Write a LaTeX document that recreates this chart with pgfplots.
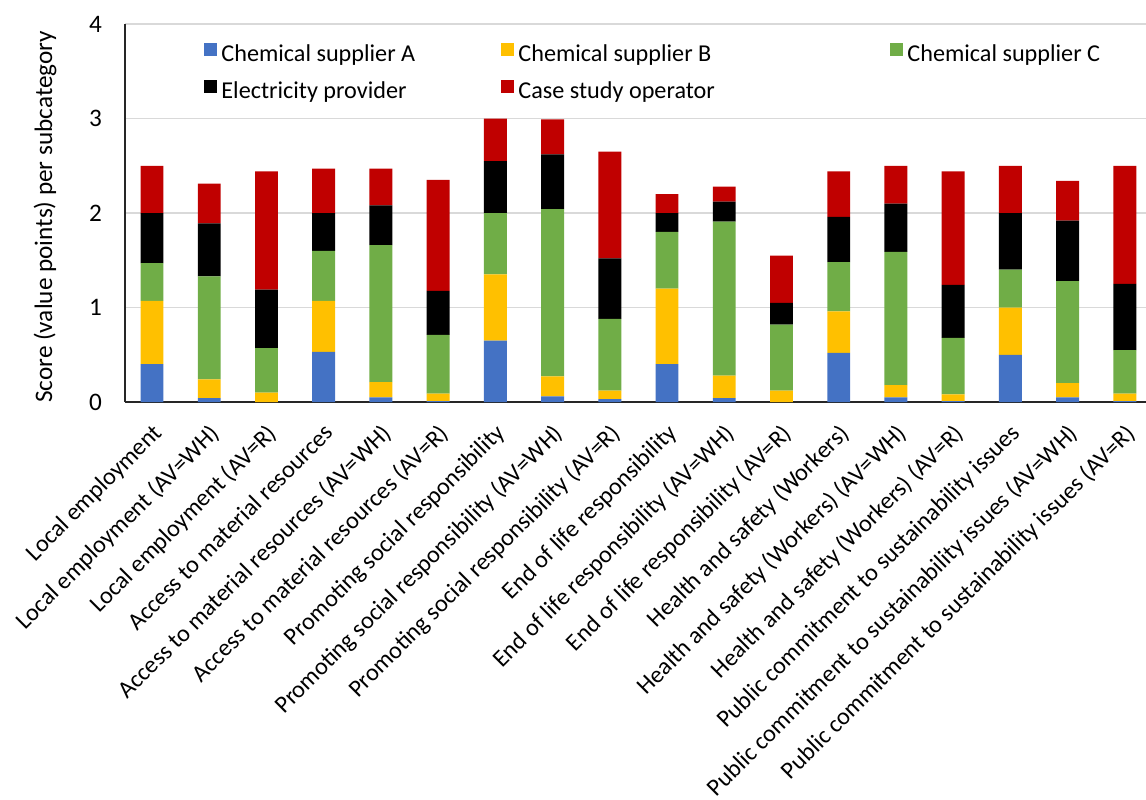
\documentclass[border=0pt]{standalone}
\usepackage{pgfplots}
\pgfplotsset{compat=1.18}
\usepackage{pgfplotstable}
\usepackage{fontspec}
\setmainfont{Carlito}
\definecolor{cA}{HTML}{4472C4}
\definecolor{cB}{HTML}{FFC000}
\definecolor{cC}{HTML}{70AD47}
\definecolor{cE}{HTML}{000000}
\definecolor{cO}{HTML}{C00000}
\definecolor{gridc}{HTML}{D9D9D9}
\pgfplotstableread{
idx A B C E O
0 0.40 0.67 0.40 0.53 0.50
1 0.04 0.20 1.09 0.56 0.42
2 0.00 0.10 0.47 0.62 1.25
3 0.53 0.54 0.53 0.40 0.47
4 0.05 0.16 1.45 0.42 0.39
5 0.01 0.08 0.62 0.465 1.175
6 0.65 0.70 0.65 0.55 0.45
7 0.06 0.21 1.77 0.58 0.37
8 0.03 0.09 0.76 0.64 1.13
9 0.40 0.80 0.60 0.20 0.20
10 0.04 0.24 1.63 0.21 0.16
11 0.00 0.12 0.70 0.23 0.50
12 0.52 0.44 0.52 0.48 0.48
13 0.05 0.13 1.41 0.51 0.40
14 0.01 0.07 0.60 0.56 1.20
15 0.50 0.50 0.40 0.60 0.50
16 0.05 0.15 1.08 0.64 0.42
17 0.01 0.08 0.46 0.70 1.25
}\datatable
\begin{document}
\begin{tikzpicture}
\begin{axis}[
  name=ax,
  scale only axis,
  width=510.5pt, height=189pt,
  xmin=-0.472, xmax=17.37,
  ymin=0, ymax=4,
  ytick={0,1,2,3,4},
  xtick={0,...,17},
  xticklabels={{Local employment},{Local employment (AV=WH)},{Local employment (AV=R)},{Access to material resources},{Access to material resources (AV=WH)},{Access to material resources (AV=R)},{Promoting social responsibility},{Promoting social responsibility (AV=WH)},{Promoting social responsibility (AV=R)},{End of life responsibility},{End of life responsibility (AV=WH)},{End of life responsibility (AV=R)},{Health and safety (Workers)},{Health and safety (Workers) (AV=WH)},{Health and safety (Workers) (AV=R)},{Public commitment to sustainability issues},{Public commitment to sustainability issues (AV=WH)},{Public commitment to sustainability issues (AV=R)}},
  axis lines*=left,
  axis line style={line width=1pt, color=black!85},
  major tick length=0pt,
  ymajorgrids,
  grid style={line width=0.75pt, color=gridc},
  ybar stacked,
  bar width=0.4,
  /pgf/number format/assume math mode=true,
  yticklabel style={font=\fontsize{12.6}{14}\selectfont, xshift=-8pt},
  xticklabel style={font=\fontsize{12.1}{14}\selectfont, xshift=-0.5pt, yshift=-8.5pt, rotate=45, anchor=north east, inner sep=1pt},
  ylabel={Score (value points) per subcategory},
  every axis y label/.style={at={(axis description cs:-0.0784,0.49)}, anchor=center, rotate=90, font=\fontsize{12.6}{14}\selectfont},
  legend columns=3,
  legend style={draw=none, fill=none, at={(0.0774,0.95)}, anchor=north west,
    inner sep=0pt, column sep=2pt, row sep=6.5pt,
    font=\fontsize{12.1}{14}\selectfont,
    nodes={inner sep=0pt, text height=8.5pt, text depth=2.5pt}},
  legend cell align=left,
  legend image code/.code={\fill[#1] (0pt,-0.3pt) rectangle (6.5pt,6.2pt);},
]
\addplot[fill=cA, draw=none] table[x=idx, y=A] {\datatable};
\addplot[fill=cB, draw=none] table[x=idx, y=B] {\datatable};
\addplot[fill=cC, draw=none] table[x=idx, y=C] {\datatable};
\addplot[fill=cE, draw=none] table[x=idx, y=E] {\datatable};
\addplot[fill=cO, draw=none] table[x=idx, y=O] {\datatable};
\legend{\makebox[138pt][l]{Chemical supplier A},\makebox[184pt][l]{Chemical supplier B},Chemical supplier C,Electricity provider,Case study operator}
\end{axis}
\pgfresetboundingbox
\path (ax.south west) ++(-62.5pt,-198.5pt) rectangle ++(573pt,399.5pt);
\end{tikzpicture}
\end{document}
